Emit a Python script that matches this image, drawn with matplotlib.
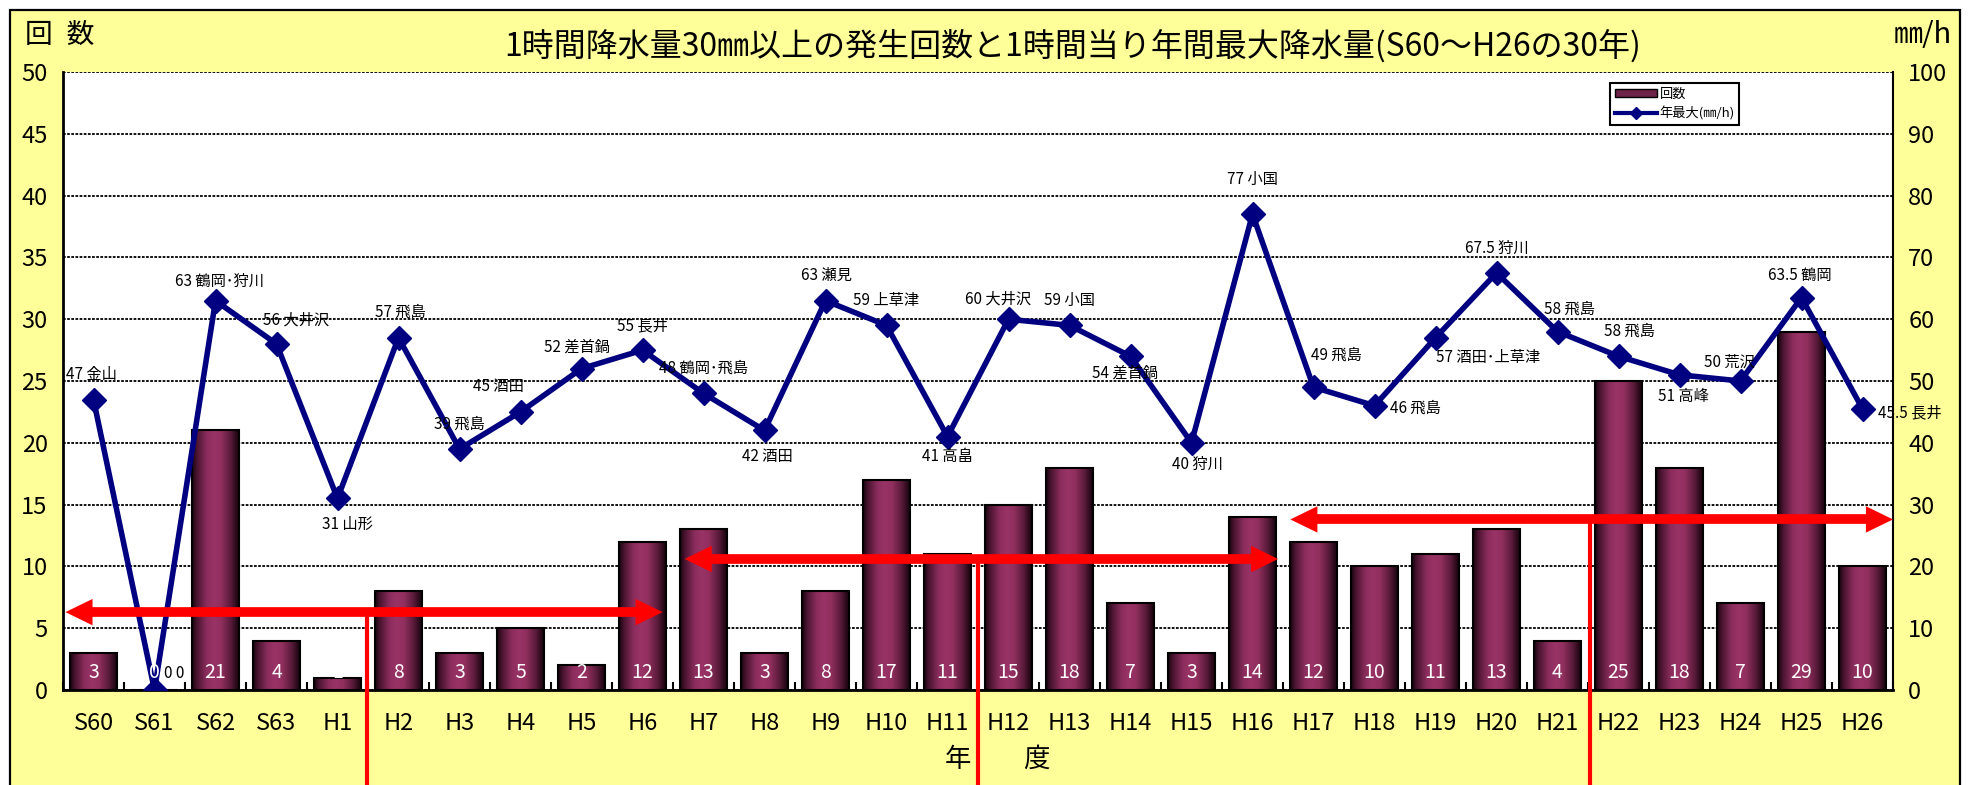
import numpy as np
import matplotlib
matplotlib.use('Agg')
import matplotlib.pyplot as plt
from matplotlib.colors import LinearSegmentedColormap
from matplotlib.lines import Line2D
from matplotlib.patches import Patch, Rectangle

plt.rcParams['font.family'] = ['Noto Sans CJK JP', 'DejaVu Sans']

# ---------------- data ----------------
years = ['S60', 'S61', 'S62', 'S63', 'H1', 'H2', 'H3', 'H4', 'H5', 'H6',
         'H7', 'H8', 'H9', 'H10', 'H11', 'H12', 'H13', 'H14', 'H15', 'H16',
         'H17', 'H18', 'H19', 'H20', 'H21', 'H22', 'H23', 'H24', 'H25', 'H26']
counts = [3, 0, 21, 4, 1, 8, 3, 5, 2, 12,
          13, 3, 8, 17, 11, 15, 18, 7, 3, 14,
          12, 10, 11, 13, 4, 25, 18, 7, 29, 10]
max_rain = [47, 0, 63, 56, 31, 57, 39, 45, 52, 55,
            48, 42, 63, 59, 41, 60, 59, 54, 40, 77,
            49, 46, 57, 67.5, 58, 54, 51, 50, 63.5, 45.5]
line_labels = ['47 金山', '0 0', '63 鶴岡･狩川', '56 大井沢', '31 山形', '57 飛島',
               '39 飛島', '45 酒田', '52 差首鍋', '55 長井', '48 鶴岡･飛島', '42 酒田',
               '63 瀬見', '59 上草津', '41 高畠', '60 大井沢', '59 小国', '54 差首鍋',
               '40 狩川', '77 小国', '49 飛島', '46 飛島', '57 酒田･上草津', '67.5 狩川',
               '58 飛島', '58 飛島', '51 高峰', '50 荒沢', '63.5 鶴岡', '45.5 長井']
# label offsets in pixels (dx, dy up, horizontal alignment)
label_offsets = [(-28, 25, 'left'), (9, 17, 'left'), (4, 19, 'center'), (20, 24, 'center'),
                 (10, -26, 'center'), (2, 26, 'center'), (0, 25, 'center'), (-22, 25, 'center'),
                 (-5, 22, 'center'), (0, 24, 'center'), (0, 25, 'center'), (3, -26, 'center'),
                 (1, 25, 'center'), (0, 25, 'center'), (0, -20, 'center'), (-10, 20, 'center'),
                 (0, 25, 'center'), (-5, -17, 'center'), (6, -22, 'center'), (0, 35, 'center'),
                 (23, 32, 'center'), (16, -2, 'left'), (0, -20, 'left'), (0, 24, 'center'),
                 (12, 22, 'center'), (11, 25, 'center'), (4, -22, 'center'), (-11, 19, 'center'),
                 (-2, 22, 'center'), (15, -4, 'left')]
# red period arrows: (x start, x end, x of drop line, y in counts)
arrow_spans = [(-0.46, 9.33, 4.48, 6.3),
               (9.69, 19.42, 14.5, 10.6),
               (19.62, 29.5, 24.54, 13.8)]

title = '1時間降水量30㎜以上の発生回数と1時間当り年間最大降水量(S60～H26の30年)'

W, H = 1968, 785
fig = plt.figure(figsize=(W / 100, H / 100), dpi=100)
fig.patch.set_facecolor('white')
bg = Rectangle((10 / W, -0.02), 1950 / W, 775 / H + 0.02, transform=fig.transFigure,
               facecolor='#FFFF99', edgecolor='black', linewidth=1.6, zorder=-10)
fig.add_artist(bg)

ax = fig.add_axes([63 / W, 95 / H, 1830 / W, 618 / H])
ax.set_facecolor('white')

x = np.arange(len(years))
bw = 0.78
bars = ax.bar(x, counts, width=bw, facecolor='none', edgecolor='black', linewidth=1.5, zorder=2)

cmap = LinearSegmentedColormap.from_list('barg', [
    (0.0, '#1a0410'), (0.1, '#4a1430'), (0.3, '#8a2d5c'), (0.45, '#993366'),
    (0.6, '#93305f'), (0.8, '#5c1c3c'), (0.93, '#2a0a1a'), (1.0, '#0d0208')])
grad = cmap(np.linspace(0, 1, 120))[None, :, :]
for rect in bars:
    h = rect.get_height()
    if h <= 0:
        continue
    x0 = rect.get_x()
    im = ax.imshow(grad, extent=[x0, x0 + rect.get_width(), 0, h], aspect='auto',
                   interpolation='bilinear', zorder=1.9)
    im.set_clip_path(rect)

ax.set_yticks(range(0, 51, 5))
ax.grid(axis='y', color='black', linestyle=(0, (1.5, 0.8)), linewidth=1.3)
ax.set_axisbelow(True)
ax.set_xticks(x)
ax.set_xticklabels(years, fontsize=17)
ax.set_xticks(np.arange(-0.5, 30, 1), minor=True)
ax.tick_params(axis='x', which='major', length=0, pad=16)
ax.tick_params(axis='x', which='minor', direction='in', length=6, width=1.5)
ax.tick_params(axis='y', direction='in', length=0, pad=11, labelsize=17)
for s in ['top', 'right']:
    ax.spines[s].set_visible(False)
for s in ['left', 'bottom']:
    ax.spines[s].set_linewidth(2)

ax2 = ax.twinx()
ax2.plot(x, max_rain, color='#000080', lw=4, marker='D', ms=12, mew=1, zorder=3)
for i, lab in enumerate(line_labels):
    dx, dy, ha = label_offsets[i]
    ax2.annotate(lab, (x[i], max_rain[i]), xytext=(dx * 0.72, dy * 0.72),
                 textcoords='offset points', ha=ha, va='center', fontsize=11, zorder=5)
for i, c in enumerate(counts):
    ax2.text(x[i], 1.4, str(c), transform=ax.transData, color='white',
             ha='center', va='center', fontsize=14, zorder=6)

head_len_data = 0.3
for xs, xe, xd, y in arrow_spans:
    # filled triangular heads
    ax2.annotate('', xy=(xe, y), xytext=(xs, y), xycoords=ax.transData, textcoords=ax.transData,
                 arrowprops=dict(arrowstyle='<|-|>,head_length=1.95,head_width=0.95',
                                 facecolor='red', edgecolor='none', lw=0,
                                 mutation_scale=10, shrinkA=0, shrinkB=0),
                 zorder=7)
    # shaft
    ax2.add_line(Line2D([xs + head_len_data, xe - head_len_data], [y, y], transform=ax.transData,
                        color='red', lw=7, solid_capstyle='butt', zorder=7))
    # drop line
    ax2.add_line(Line2D([xd, xd], [y, -12], transform=ax.transData, color='red', lw=3,
                        clip_on=False, solid_capstyle='butt', zorder=7))

ax2.set_yticks(range(0, 101, 10))
ax2.tick_params(axis='y', length=0, pad=11, labelsize=17)
for s in ['top', 'left', 'bottom']:
    ax2.spines[s].set_visible(False)
ax2.spines['right'].set_linewidth(1.5)

ax.set_xlim(-0.5, 29.5)
ax.set_ylim(0, 50)
ax2.set_ylim(0, 100)

handles = [Patch(facecolor='#6e2449', edgecolor='black'),
           Line2D([], [], color='#000080', lw=3, marker='D', ms=6)]
leg = fig.legend(handles, ['回数', '年最大(㎜/h)'], loc='upper left',
                 bbox_to_anchor=(1610 / W, 1 - 83 / H), fontsize=9.5, frameon=True,
                 fancybox=False, edgecolor='black', borderpad=0.35, labelspacing=0.45,
                 handlelength=3.2, handleheight=0.6, handletextpad=0.2, framealpha=1,
                 borderaxespad=0)
leg.get_frame().set_linewidth(1.5)

fig.text(1073 / W, 1 - 46 / H, title, ha='center', va='center', fontsize=23)
fig.text(25 / W, 1 - 35 / H, '回\u2002数', ha='left', va='center', fontsize=20)
fig.text(1952 / W, 1 - 35 / H, '㎜/h', ha='right', va='center', fontsize=21)
fig.text(998 / W, 1 - 759 / H, '年　　度', ha='center', va='center', fontsize=19)

fig.savefig('out.png', dpi=100)
